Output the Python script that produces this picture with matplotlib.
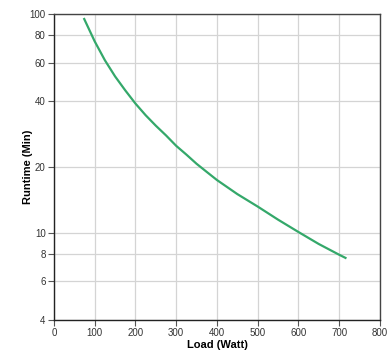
import matplotlib
matplotlib.use("Agg")
import matplotlib.pyplot as plt
from matplotlib.ticker import FixedLocator, FixedFormatter, NullLocator

# runtime curve
load_watt = [73, 100, 125, 150, 175, 200, 225, 250, 275, 300, 325, 350, 375,
             400, 450, 500, 550, 600, 650, 700, 718]
runtime_min = [96, 75, 61.5, 51.9, 44.8, 39.0, 34.5, 30.9, 27.9, 25.0, 22.8, 20.7, 19.0,
               17.45, 15.05, 13.2, 11.5, 10.1, 8.9, 7.95, 7.65]

x_ticks = [0, 100, 200, 300, 400, 500, 600, 700, 800]
y_ticks = [4, 6, 8, 10, 20, 40, 60, 80, 100]

plt.rcParams["font.family"] = ["Liberation Sans", "DejaVu Sans"]

fig = plt.figure(figsize=(3.9, 3.53), dpi=100)
ax = fig.add_axes([0.1385, 0.0935, 0.8355, 0.8665])

ax.plot(load_watt, runtime_min, color="#34a86a", linewidth=1.6,
        solid_joinstyle="round", solid_capstyle="butt")

ax.set_yscale("log")
ax.set_xlim(0, 800)
ax.set_ylim(4, 100)
ax.xaxis.set_major_locator(FixedLocator(x_ticks))
ax.yaxis.set_major_locator(FixedLocator(y_ticks))
ax.yaxis.set_major_formatter(FixedFormatter([str(t) for t in y_ticks]))
ax.yaxis.set_minor_locator(NullLocator())

ax.grid(True, color="#d4d4d4", linewidth=0.9)
ax.set_axisbelow(True)

for side in ["left", "bottom"]:
    ax.spines[side].set_color("#222222")
    ax.spines[side].set_linewidth(1.0)
for side in ["right", "top"]:
    ax.spines[side].set_color("#444444")
    ax.spines[side].set_linewidth(1.0)

ax.tick_params(axis="both", labelsize=7, length=4, width=0.8, color="#555555",
               labelcolor="#333333", pad=2)

ax.set_xlabel("Load (Watt)", fontsize=8, fontweight="bold", labelpad=1)
ax.set_ylabel("Runtime (Min)", fontsize=8, fontweight="bold")
ax.yaxis.set_label_coords(-0.064, 0.5)

fig.savefig("out.png", dpi=100)
